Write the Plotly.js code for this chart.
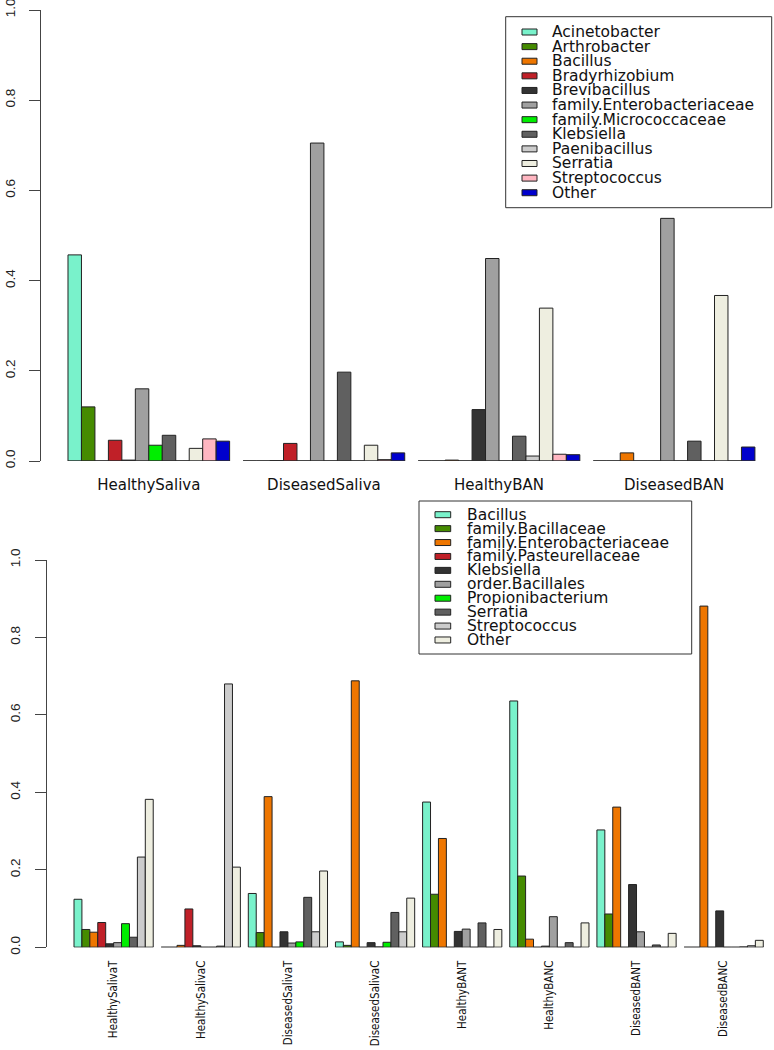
<!DOCTYPE html>
<html><head><meta charset="utf-8">
<script src="https://cdn.plot.ly/plotly-3.0.1.min.js"></script>
<style>html,body{margin:0;padding:0;background:#fff}#chart{width:774px;height:1050px}</style>
</head><body><div id="chart"></div>
<script>
// ---------- Top panel data ----------
const topGroups = ['HealthySaliva', 'DiseasedSaliva', 'HealthyBAN', 'DiseasedBAN'];
const topTaxa = ['Acinetobacter', 'Arthrobacter', 'Bacillus', 'Bradyrhizobium', 'Brevibacillus',
  'family.Enterobacteriaceae', 'family.Micrococcaceae', 'Klebsiella', 'Paenibacillus',
  'Serratia', 'Streptococcus', 'Other'];
const topColors = ['#79F2CB', '#458B00', '#EE7600', '#C02028', '#333333', '#A0A0A0',
  '#00EE00', '#606060', '#CCCCCC', '#EEEEE0', '#FFB6C1', '#0000CD'];
const topAcinetobacter = [0.457, 0, 0, 0];
const topArthrobacter = [0.120, 0, 0, 0];
const topBacillus = [0, 0.001, 0.002, 0.018];
const topBradyrhizobium = [0.046, 0.039, 0, 0];
const topBrevibacillus = [0.002, 0, 0.114, 0];
const topEnterobacteriaceae = [0.160, 0.705, 0.449, 0.538];
const topMicrococcaceae = [0.035, 0, 0, 0];
const topKlebsiella = [0.057, 0.197, 0.055, 0.044];
const topPaenibacillus = [0, 0, 0.011, 0];
const topSerratia = [0.028, 0.035, 0.339, 0.367];
const topStreptococcus = [0.049, 0.003, 0.015, 0];
const topOther = [0.044, 0.018, 0.014, 0.031];
const topSeries = [topAcinetobacter, topArthrobacter, topBacillus, topBradyrhizobium, topBrevibacillus,
  topEnterobacteriaceae, topMicrococcaceae, topKlebsiella, topPaenibacillus, topSerratia,
  topStreptococcus, topOther];

// ---------- Bottom panel data ----------
const botGroups = ['HealthySalivaT', 'HealthySalivaC', 'DiseasedSalivaT', 'DiseasedSalivaC',
  'HealthyBANT', 'HealthyBANC', 'DiseasedBANT', 'DiseasedBANC'];
const botTaxa = ['Bacillus', 'family.Bacillaceae', 'family.Enterobacteriaceae', 'family.Pasteurellaceae',
  'Klebsiella', 'order.Bacillales', 'Propionibacterium', 'Serratia', 'Streptococcus', 'Other'];
const botColors = ['#79F2CB', '#458B00', '#EE7600', '#C02028', '#333333', '#A0A0A0',
  '#00EE00', '#606060', '#CCCCCC', '#EEEEE0'];
const botBacillus = [0.124, 0, 0.139, 0.014, 0.375, 0.636, 0.303, 0];
const botBacillaceae = [0.046, 0, 0.038, 0.005, 0.137, 0.184, 0.086, 0];
const botEnterobacteriaceae = [0.039, 0.005, 0.389, 0.688, 0.281, 0.021, 0.362, 0.881];
const botPasteurellaceae = [0.064, 0.099, 0, 0, 0, 0, 0, 0];
const botKlebsiella = [0.009, 0.004, 0.040, 0.012, 0.041, 0.003, 0.162, 0.094];
const botBacillales = [0.012, 0, 0.011, 0.001, 0.047, 0.079, 0.040, 0];
const botPropionibacterium = [0.061, 0, 0.014, 0.013, 0, 0, 0, 0];
const botSerratia = [0.026, 0.003, 0.129, 0.090, 0.063, 0.012, 0.006, 0.001];
const botStreptococcus = [0.233, 0.680, 0.040, 0.040, 0, 0, 0, 0.004];
const botOther = [0.382, 0.207, 0.197, 0.127, 0.046, 0.063, 0.036, 0.018];
const botSeries = [botBacillus, botBacillaceae, botEnterobacteriaceae, botPasteurellaceae,
  botKlebsiella, botBacillales, botPropionibacterium, botSerratia, botStreptococcus, botOther];

const yTicks = [0, 0.2, 0.4, 0.6, 0.8, 1.0];

// ---------- Build ----------
const W = 774, H = 1050, ML = 41;
const PX = px => (px - ML) / (W - ML);
const PY = py => 1 - py / H;

const traces = [];
const shapes = [];
const annotations = [];

function addPanel(groups, series, colors, xa, ya) {
  const n = series.length;
  const unit = 1 / (n + 1);
  series.forEach((vals, k) => {
    traces.push({
      type: 'bar', x: groups, y: vals, xaxis: xa, yaxis: ya,
      width: unit, offset: -n / 2 * unit + k * unit,
      marker: { color: colors[k], line: { color: '#222', width: 1 } },
      showlegend: false, hoverinfo: 'skip'
    });
  });
  groups.forEach((g, i) => {
    shapes.push({ type: 'line', xref: xa, yref: ya, x0: i - n / 2 * unit, x1: i + n / 2 * unit,
      y0: 0, y1: 0, line: { color: '#333', width: 1 } });
  });
}
addPanel(topGroups, topSeries, topColors, 'x', 'y');
addPanel(botGroups, botSeries, botColors, 'x2', 'y2');

function addLegend(names, colors, box, firstY, step, swX0, swX1, textX, fsize) {
  shapes.push({ type: 'rect', xref: 'paper', yref: 'paper', x0: PX(box[0]), x1: PX(box[1]),
    y0: PY(box[3]), y1: PY(box[2]), line: { color: '#333', width: 1 }, fillcolor: 'rgba(0,0,0,0)' });
  names.forEach((nm, i) => {
    const cy = firstY + i * step;
    shapes.push({ type: 'rect', xref: 'paper', yref: 'paper', x0: PX(swX0), x1: PX(swX1),
      y0: PY(cy + 3), y1: PY(cy - 3), line: { color: '#222', width: 1 }, fillcolor: colors[i] });
    annotations.push({ xref: 'paper', yref: 'paper', x: PX(textX), y: PY(cy), xanchor: 'left',
      yanchor: 'middle', showarrow: false, text: nm, borderpad: 0,
      font: { family: 'DejaVu Sans, sans-serif', size: fsize, color: '#111' } });
  });
}
addLegend(topTaxa, topColors, [505.7, 771.7, 16.7, 207.7], 32, 14.61, 522, 537, 551, 15.5);
addLegend(botTaxa, botColors, [419, 691.7, 501, 654], 514.7, 13.92, 435, 450.7, 466, 15.5);

const yaxisCommon = {
  range: [0, 1], tickvals: yTicks, ticktext: yTicks.map(v => v.toFixed(1)), tickangle: -90,
  showline: true, linecolor: '#444', linewidth: 1, ticks: 'outside', ticklen: 11, tickcolor: '#444',
  showgrid: false, zeroline: false, ticklabeloverflow: 'allow',
  tickfont: { family: 'Liberation Sans, Arial, sans-serif', size: 13.5, color: '#222' },
  ticklabelstandoff: 9, fixedrange: true
};

const layout = {
  width: W, height: H, margin: { l: ML, r: 0, t: 0, b: 0 },
  paper_bgcolor: '#fff', plot_bgcolor: '#fff', barmode: 'overlay', showlegend: false,
  font: { family: 'Liberation Sans, Arial, sans-serif', color: '#222' },
  xaxis: {
    type: 'category', domain: [0, 1], anchor: 'y', range: [-0.6157, 3.5705],
    showline: false, showgrid: false, zeroline: false, ticks: '', ticklabeloverflow: 'allow',
    tickfont: { family: 'DejaVu Sans, sans-serif', size: 15, color: '#111' }, ticklabelstandoff: 13
  },
  yaxis: Object.assign({}, yaxisCommon, { domain: [PY(461), PY(10)], anchor: 'x' }),
  xaxis2: {
    type: 'category', domain: [PX(46.7), 1], anchor: 'y2', range: [-0.7678, 7.5775],
    showline: false, showgrid: false, zeroline: false, ticks: '', tickangle: -90, ticklabeloverflow: 'allow',
    tickfont: { family: 'DejaVu Sans Condensed, Liberation Sans, Arial, sans-serif', size: 11.5, color: '#111' },
    ticklabelstandoff: 10
  },
  yaxis2: Object.assign({}, yaxisCommon, { domain: [PY(947.3), PY(560)], anchor: 'x2' }),
  shapes: shapes, annotations: annotations
};

Plotly.newPlot('chart', traces, layout, { staticPlot: true, displayModeBar: false });
</script>
</body></html>
